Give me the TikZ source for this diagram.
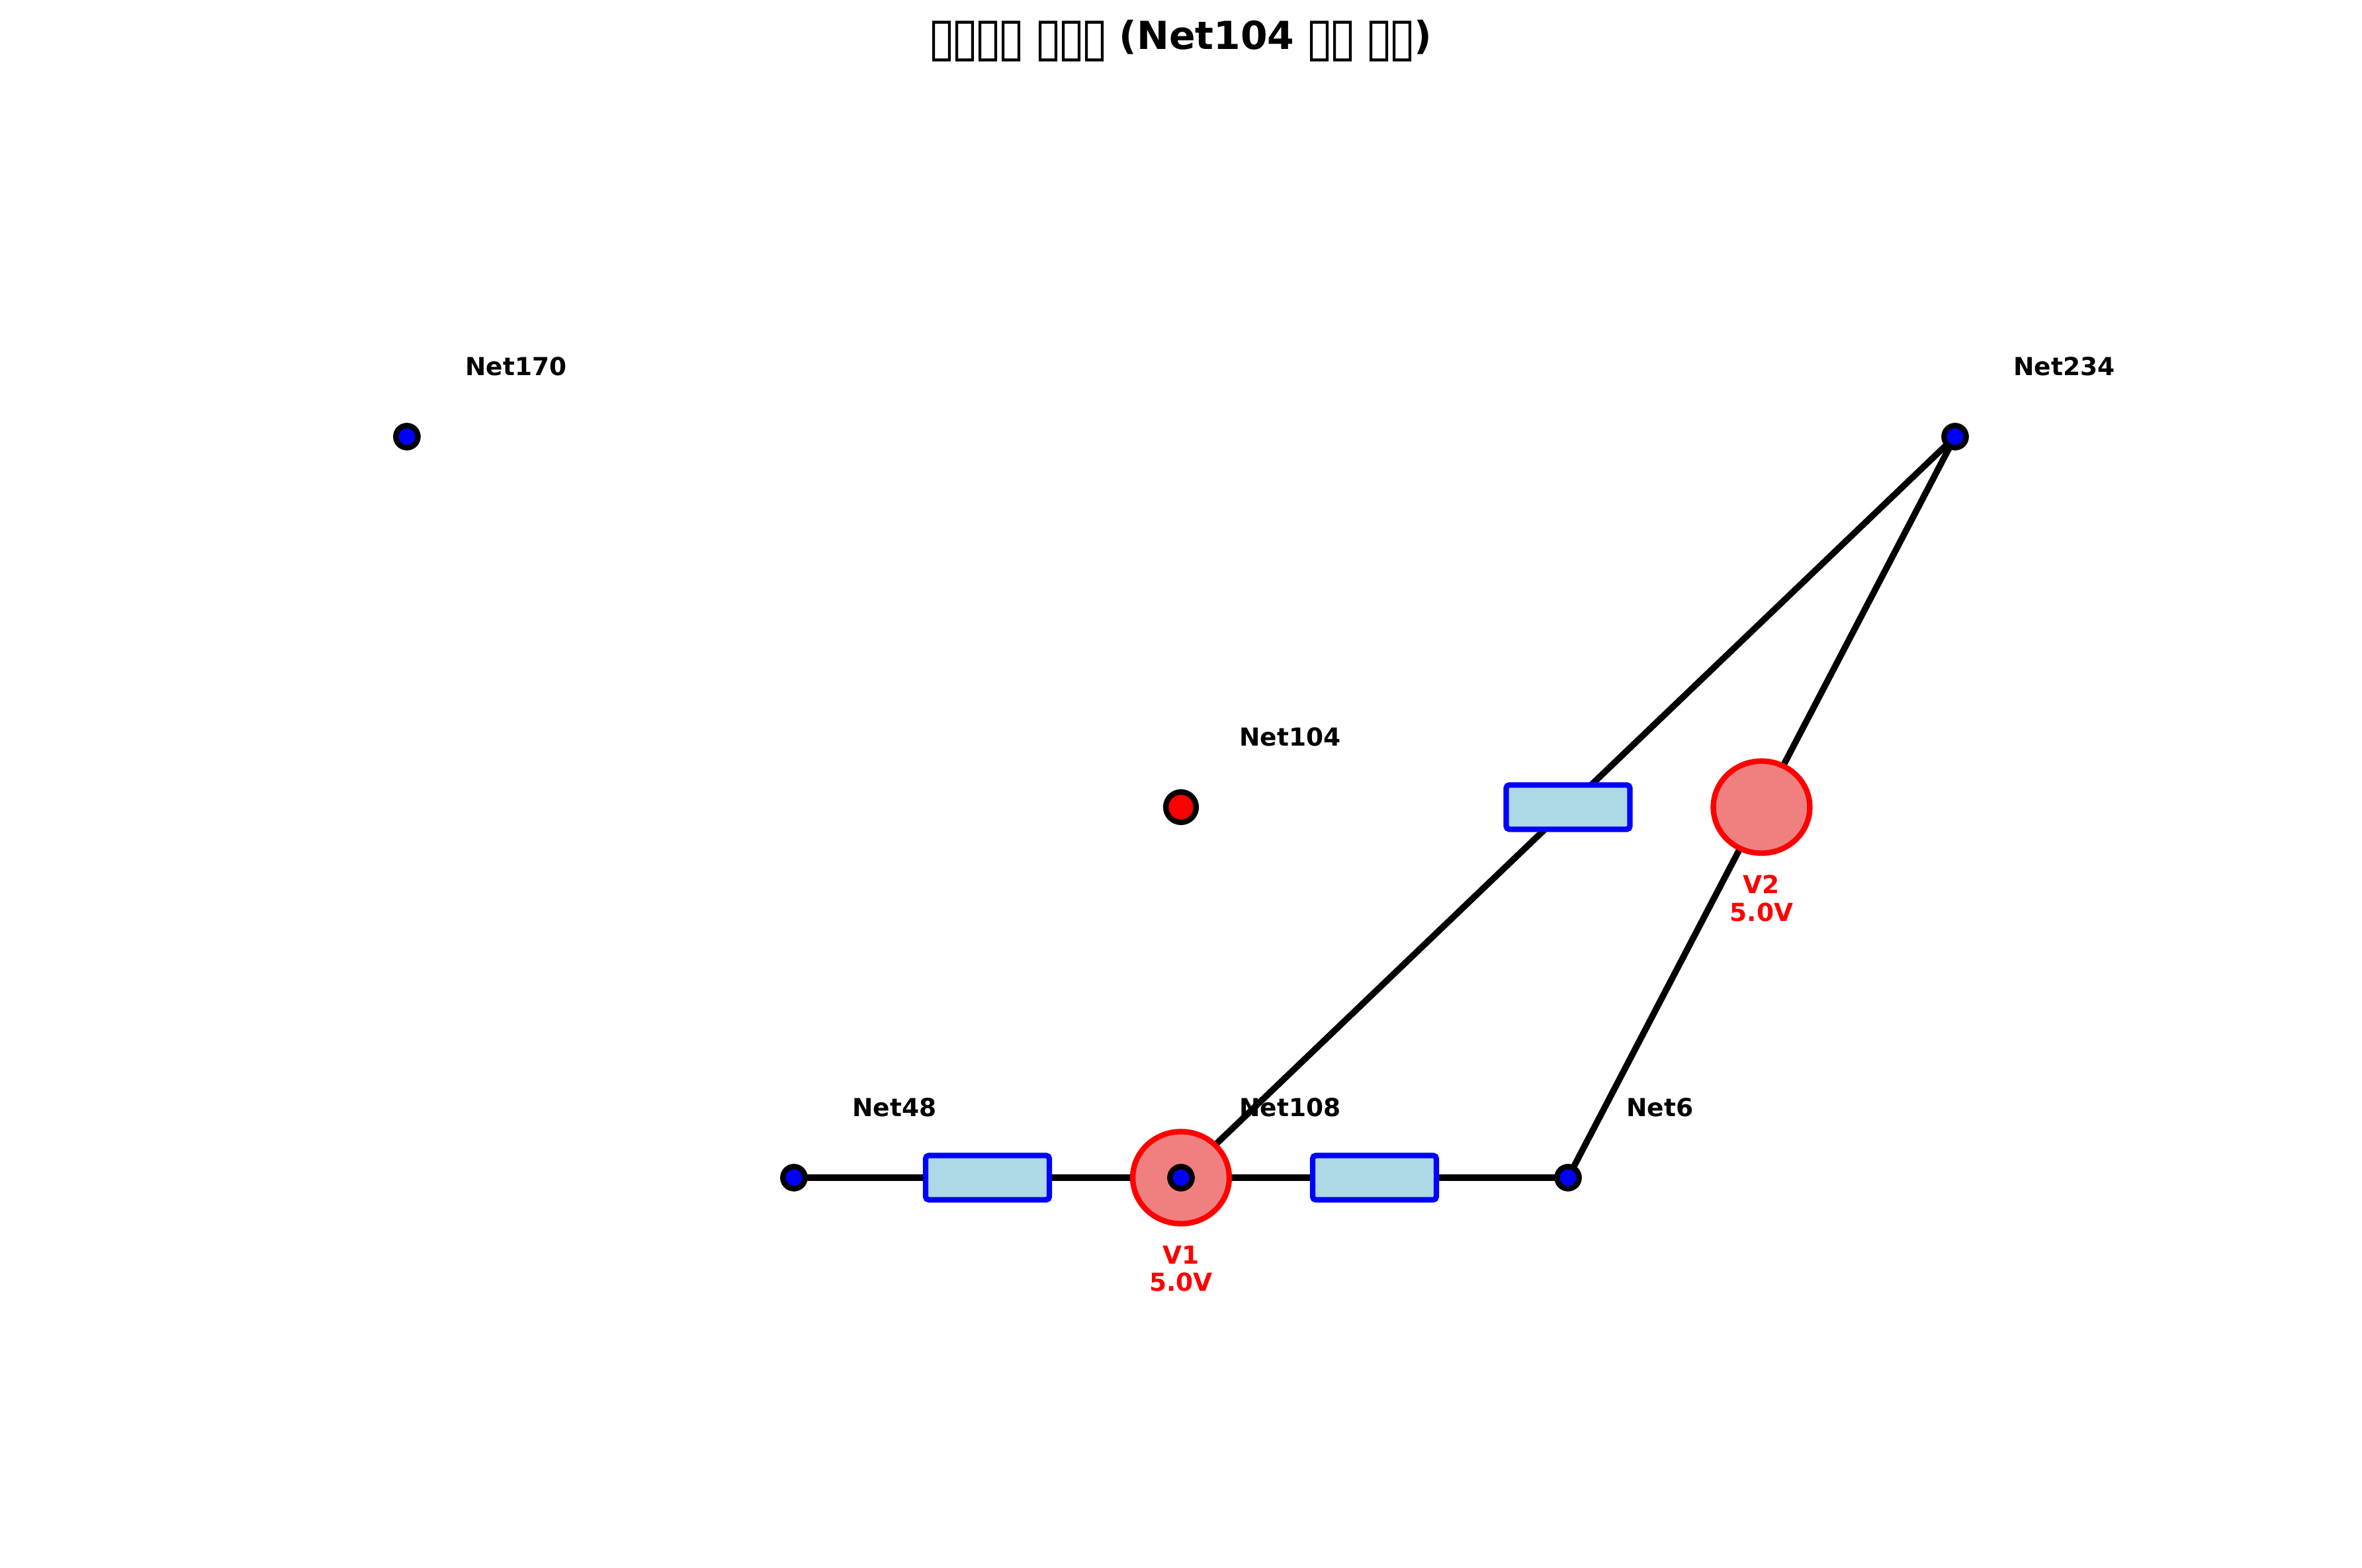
\documentclass[tikz,border=0pt]{standalone}
\usepackage{graphicx}
\usepackage{fontspec}
\setmainfont{DejaVu Sans}[BoldFont={DejaVu Sans Bold}]
\newcommand{\tofu}{\makebox[0.6em]{\raisebox{-0.155em}{\resizebox{0.72em}{0.885em}{\mdseries ▯}}}}
\tikzset{
	wire/.style={line width=2.3pt},
	resbox/.style={draw=blue, fill=lightblue, line width=2pt, rounded corners=1.2pt,
		minimum width=44.9pt, minimum height=16.1pt, inner sep=0pt, outer sep=0pt},
	srccirc/.style={draw=red, fill=lightcoral, line width=2pt},
	netname/.style={font=\fontsize{9}{10}\selectfont\bfseries, anchor=base west, inner sep=0pt,
		xshift=21pt, yshift=22.3pt},
	srcname/.style={font=\fontsize{9}{10}\selectfont\bfseries, text=red, align=center, anchor=north, inner sep=0pt,
		yshift=-24.5pt},
}
\definecolor{lightblue}{HTML}{ADD8E6}
\definecolor{lightcoral}{HTML}{F08080}
\begin{document}
\begin{tikzpicture}[x=140.4pt,y=134.4pt]
\useasboundingbox (-428.4pt,-276pt) rectangle (428.4pt,292.8pt);

\node (title) at (0,0) [font=\fontsize{14}{17}\selectfont\bfseries, anchor=base, inner sep=0pt, yshift=275pt]
	{\tofu\tofu\tofu\tofu{} \tofu\tofu\tofu{} (Net104 \tofu\tofu{} \tofu\tofu)};

\node (n170) at (-2,1) {};
\node (n234) at (2,1) {};
\node (n104) at (0,0) {};
\node (n48) at (-1,-1) {};
\node (n108) at (0,-1) {};
\node (n6) at (1,-1) {};

\foreach \i/ \j in {48/108, 108/6, 108/234, 6/234}
{
	\draw[wire] (n\i.center) -- (n\j.center);
};

\node[resbox] (r1) at (-0.5,-1) {};
\node[resbox] (r2) at (0.5,-1) {};
\node[resbox] (r3) at (1,0) {};

\draw[srccirc] (0,-1) ellipse [x radius=17.5pt, y radius=16.7pt];
\draw[srccirc] (1.5,0) ellipse [x radius=17.5pt, y radius=16.7pt];
\node (v1) at (0,-1) {};
\node (v2) at (1.5,0) {};

\foreach \i in {170,234,48,108,6}
{
	\draw[fill=blue, line width=2pt] (n\i.center) circle [radius=4pt];
};
\draw[fill=red, line width=2pt] (n104.center) circle [radius=5.5pt];

\foreach \i/ \name in {170/Net170, 234/Net234, 104/Net104, 48/Net48, 108/Net108, 6/Net6}
{
	\node[netname] (t\i) at (n\i.center) {\name};
};

\node[srcname] (tv1) at (v1.center) {V1\\5.0V};
\node[srcname] (tv2) at (v2.center) {V2\\5.0V};
\end{tikzpicture}
\end{document}
